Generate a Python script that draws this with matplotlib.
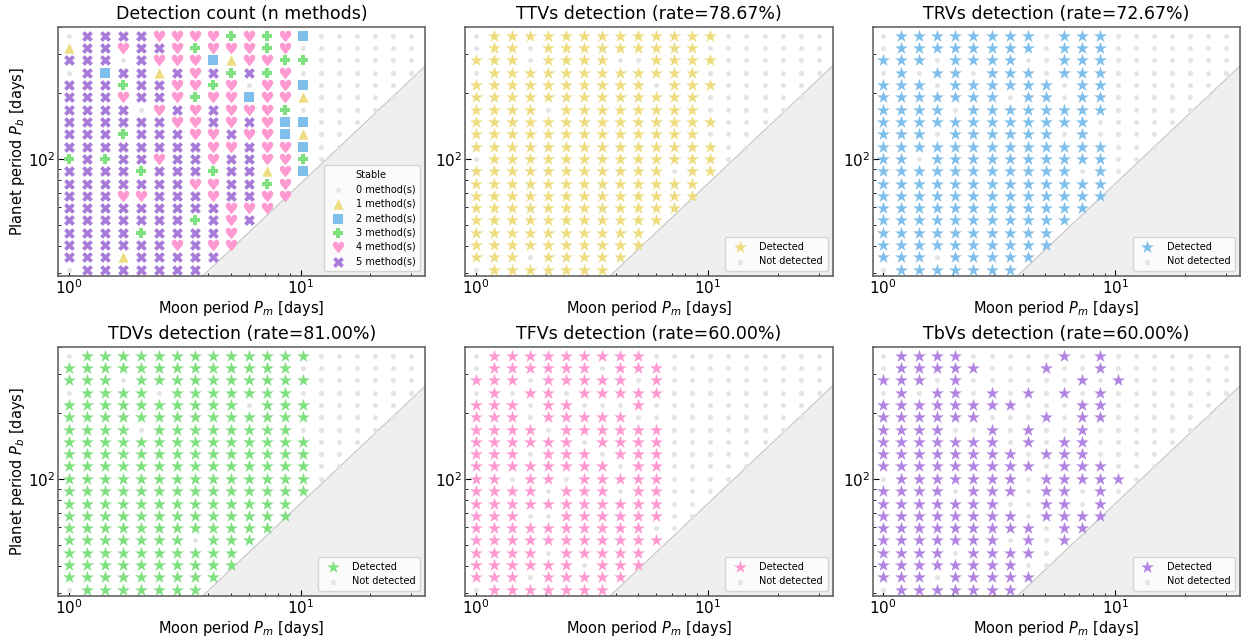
import matplotlib
matplotlib.use('Agg')
import matplotlib.pyplot as plt
import numpy as np

# simulation grid (moon period along x, planet period along y)
moon_periods = [1.000, 1.196, 1.430, 1.711, 2.047, 2.448, 2.928, 3.502, 4.188, 5.009,
                5.991, 7.166, 8.570, 10.25, 12.26, 14.66, 17.54, 20.97, 25.08, 30.00]
planet_periods = [31.1, 35.4, 40.3, 45.9, 52.2, 59.5, 67.7, 77.0, 87.7, 99.9,
                  113.7, 129.4, 147.3, 167.7, 190.9, 217.4, 247.4, 281.7, 320.7, 365.0]

# detection maps, one string per planet period (top row = longest period)
# '*' detected, 'o' not detected; string length = number of stable moon periods
ttv_rows = [
    "o*************oooooo", "o**o*********ooooooo", "***o****oo****oooooo",
    "o************ooooooo", "**********o***ooooo", "*************oooooo",
    "****o********ooooo", "**************ooo", "*************ooo",
    "**************oo", "o*************o", "***********o**",
    "*************", "*************", "************", "***********",
    "**********", "**********", "***o*****", "o*******",
]
trv_rows = [
    "o********o***ooooooo", "o********o***ooooooo", "***o****oo***ooooooo",
    "o*o**o***o***ooooooo", "***o******o**oooooo", "*******o**o**oooooo",
    "****o********ooooo", "************ooooo", "***o******o*oooo",
    "*************ooo", "**o**********oo", "***********o*o",
    "*************", "*************", "************", "***********",
    "**********", "**********", "***o*****", "o*******",
]
tdv_rows = [
    "o*************oooooo", "*************ooooooo", "***o**********oooooo",
    "o****o*******ooooooo", "**********o***ooooo", "**************ooooo",
    "****o********ooooo", "**************ooo", "**************oo",
    "**************oo", "**************o", "**************",
    "*************", "*************", "************", "*******o***",
    "**********", "**********", "*********", "o*******",
]
tfv_rows = [
    "o*********oooooooooo", "o******o***ooooooooo", "***o*****o*ooooooooo",
    "o*o**o*****ooooooooo", "***o**ooo*ooooooooo", "***o*****oooooooooo",
    "****o******ooooooo", "******o****oooooo", "***o***o***ooooo",
    "********o**ooooo", "**o**o*****oooo", "****o***o**ooo",
    "***********oo", "***oo******oo", "**********oo", "***********",
    "****o*****", "******o***", "***o*****", "o*******",
]
tbv_rows = [
    "o****ooooo*o*ooooooo", "o*****ooo*oo*ooooooo", "***o*oooooo*o*oooooo",
    "o*o**o*o*o*o*ooooooo", "********ooo**oooooo", "******ooo*o**oooooo",
    "****oo*o*oo*oooooo", "*******o*o**ooooo", "********o***oooo",
    "*********o***ooo", "o*******o*****o", "****o***o**o*o",
    "*******oo**o*", "********o****", "*********o**", "*******o*o*",
    "****o****o", "********oo", "***o*****", "o*******",
]

method_names = ["TTVs", "TRVs", "TDVs", "TFVs", "TbVs"]
method_rows = [ttv_rows, trv_rows, tdv_rows, tfv_rows, tbv_rows]
method_colors = ["#eedd80", "#80bfec", "#7ee07e", "#ff99d2", "#b385e2"]

# boundary of the unstable region: P_b = k * P_m
hill_factor = 7.7

gray_dot = "#e4e4e4"
xlim = (0.9, 34.5)
ylim = (29.1, 400)


def to_grid(rows):
    """Return array of (P_m, P_b, flag) for every stable point."""
    pts = []
    p_top_down = planet_periods[::-1]
    for i, row in enumerate(rows):
        for j, ch in enumerate(row):
            pts.append((moon_periods[j], p_top_down[i], 1 if ch == "*" else 0))
    return np.array(pts)


def style_axes(ax, ylabel=True):
    ax.set_xscale("log")
    ax.set_yscale("log")
    ax.set_xlim(*xlim)
    ax.set_ylim(*ylim)
    xs = np.array(xlim)
    ax.fill_between(xs, ylim[0], hill_factor * xs, color="#efefef", zorder=0)
    ax.plot(xs, hill_factor * xs, color="#b8b8b8", lw=0.6, zorder=0.5)
    ax.tick_params(which="both", direction="in", top=False, right=False,
                   labelsize=11, pad=2)
    ax.tick_params(which="major", length=4)
    ax.tick_params(which="minor", length=2)
    ax.yaxis.set_minor_formatter(matplotlib.ticker.NullFormatter())
    for sp in ax.spines.values():
        sp.set_color("0.4")
        sp.set_linewidth(1.2)
    ax.set_xlabel("Moon period $P_m$ [days]", fontsize=10.5, labelpad=1)
    if ylabel:
        ax.set_ylabel("Planet period $P_b$ [days]", fontsize=10.5, labelpad=1)


fig, axes = plt.subplots(2, 3, figsize=(12.47, 6.37), dpi=100)
plt.subplots_adjust(left=0.0465, right=0.9944, bottom=0.0644, top=0.9576,
                    wspace=0.109, hspace=0.285)

# panel 1: number of methods detecting the moon
grids = [to_grid(r) for r in method_rows]
coords = grids[0][:, :2]
n_detect = sum(g[:, 2] for g in grids).astype(int)

count_styles = [
    ("o", gray_dot, 13),
    ("^", method_colors[0], 55),
    ("s", method_colors[1], 55),
    ("P", method_colors[2], 60),
    ("$\u2665$", method_colors[3], 70),
    ("X", "#a87bd8", 60),
]

ax = axes[0, 0]
style_axes(ax)
ax.scatter([], [], alpha=0, label="Stable")
for n, (mk, col, size) in enumerate(count_styles):
    sel = n_detect == n
    ax.scatter(coords[sel, 0], coords[sel, 1], marker=mk, color=col, s=size,
               linewidths=0, label=f"{n} method(s)", zorder=2)
ax.set_title("Detection count (n methods)", fontsize=12.5)
ax.legend(loc="lower right", fontsize=7, handletextpad=0.8,
          labelspacing=0.45, borderpad=0.5)

# panels 2-6: one per detection method
panel_axes = [axes[0, 1], axes[0, 2], axes[1, 0], axes[1, 1], axes[1, 2]]
for ax, name, g, col in zip(panel_axes, method_names, grids, method_colors):
    style_axes(ax, ylabel=(ax is axes[1, 0]))
    det = g[:, 2] == 1
    ax.scatter(g[det, 0], g[det, 1], marker="*", color=col, s=95,
               linewidths=0, label="Detected", zorder=2)
    ax.scatter(g[~det, 0], g[~det, 1], marker="o", color=gray_dot, s=13,
               linewidths=0, label="Not detected", zorder=2)
    rate = 100 * det.sum() / len(det)
    ax.set_title(f"{name} detection (rate={rate:.2f}%)", fontsize=12.5)
    ax.legend(loc="lower right", fontsize=7, handletextpad=1.0,
              labelspacing=0.45, borderpad=0.5)

fig.savefig("out.png", dpi=100)
